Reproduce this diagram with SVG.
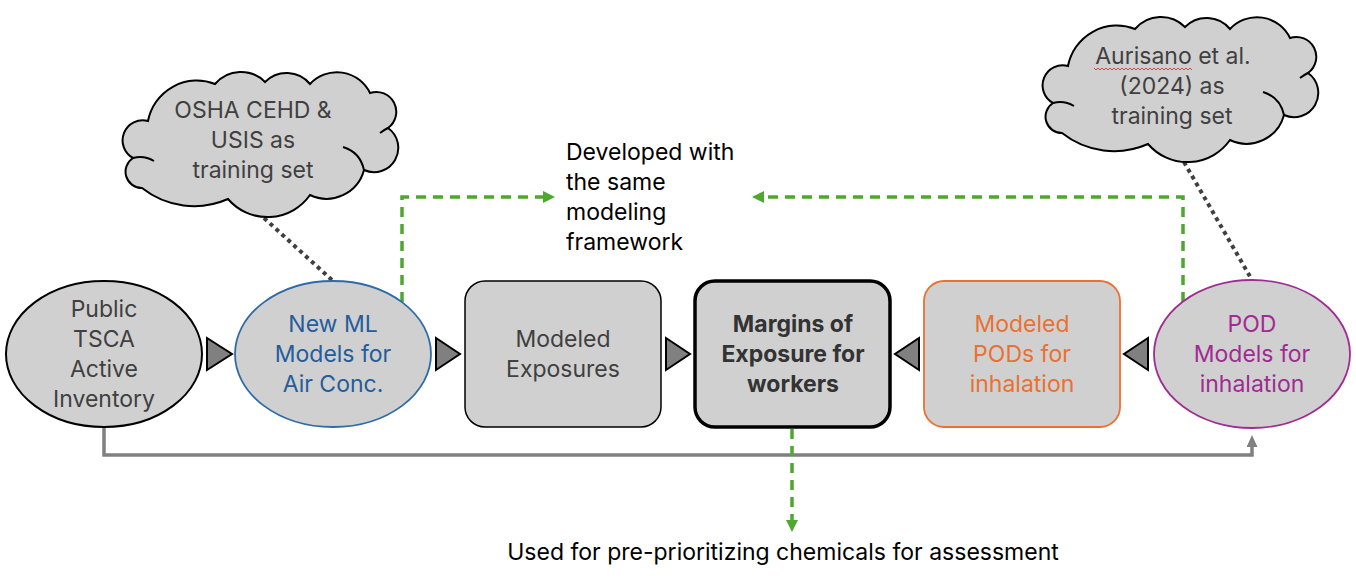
<svg xmlns="http://www.w3.org/2000/svg" width="1356" height="581" viewBox="0 0 1356 581">
<style>
text{font-family:Inter,"Open Sans","Liberation Sans",sans-serif;font-size:23px;text-anchor:middle;fill:#404040}
.lbl{fill:#000;text-anchor:start}
.fill{fill:#D0D0D0}
.tri{fill:#808080;stroke:#000;stroke-width:2;stroke-linejoin:miter}
.green{fill:none;stroke:#4EA72E;stroke-width:3.5;stroke-dasharray:10 7}
.dot{fill:none;stroke:#404040;stroke-width:4;stroke-dasharray:4 4}
.cloud{fill:#D0D0D0;stroke:#000;stroke-width:2}
.inner{fill:none;stroke:#000;stroke-width:2}
</style>
<defs>
<marker id="ga" markerUnits="userSpaceOnUse" markerWidth="12" markerHeight="12" viewBox="0 0 12 12" refX="6" refY="6" orient="auto"><path d="M0,0 L12,6 L0,12 Z" fill="#4EA72E"/></marker>
<marker id="gr" markerUnits="userSpaceOnUse" markerWidth="12" markerHeight="11" viewBox="0 0 12 11" refX="5" refY="5.5" orient="auto"><path d="M0,0 L12,5.5 L0,11 Z" fill="#808080"/></marker>
<g id="cloudShape">
<path class="cloud" d="M133,158 A20.1,20.1 0 0 1 148,121 A49.7,49.7 0 0 1 215,84 A33.9,33.9 0 0 1 265,82 A30.3,30.3 0 0 1 310,84 A36.7,36.7 0 0 1 370,93 A19.9,19.9 0 0 1 388,128 A24.3,24.3 0 0 1 364,170 A38.7,38.7 0 0 1 310,195 A52,52 0 0 1 228,199 A84,84 0 0 1 142,188 A16.3,16.3 0 0 1 133,158 Z"/>
<path class="inner" d="M133,158 Q144,155 154,161 M364,170 Q360,152 343,147 M388,128 Q384,130 380,133"/>
</g>
</defs>
<g id="connectors">
<path class="dot" d="M264,218 L333,281"/>
<path class="dot" d="M1184,162 L1252,280"/>
<path d="M104,428 V455 H1252 V442" fill="none" stroke="#808080" stroke-width="3.5" marker-end="url(#gr)"/>
<path class="green" d="M402,302 V197 H549" marker-end="url(#ga)"/>
<path class="green" d="M1183,302 V197 H758" marker-end="url(#ga)"/>
<path class="green" d="M792,429 V526" marker-end="url(#ga)"/>
<polygon class="tri" points="207,338 232,354 207,370"/>
<polygon class="tri" points="436,338 460,354 436,370"/>
<polygon class="tri" points="666,338 690,354 666,370"/>
<polygon class="tri" points="919,338 895,354 919,370"/>
<polygon class="tri" points="1148,338 1124,354 1148,370"/>
</g>
<g id="cloud1">
<use href="#cloudShape"/>
<text x="253" y="118">OSHA CEHD &amp;</text>
<text x="253" y="148">USIS as</text>
<text x="253" y="178">training set</text>
</g>
<g id="cloud2">
<use href="#cloudShape" transform="translate(920,-55)"/>
<text x="1173" y="64">Aurisano et al.</text>
<text x="1172" y="94">(2024) as</text>
<text x="1172" y="124">training set</text>
<path d="M1094,68 l2,2 l2,-2 l2,2 l2,-2 l2,2 l2,-2 l2,2 l2,-2 l2,2 l2,-2 l2,2 l2,-2 l2,2 l2,-2 l2,2 l2,-2 l2,2 l2,-2 l2,2 l2,-2 l2,2 l2,-2 l2,2 l2,-2 l2,2 l2,-2 l2,2 l2,-2 l2,2 l2,-2 l2,2 l2,-2 l2,2 l2,-2 l2,2 l2,-2 l2,2 l2,-2 l2,2 l2,-2 l2,2 l2,-2 l2,2 l2,-2 l2,2 l2,-2 l2,2 l2,-2 l2,2" fill="none" stroke="#E04040" stroke-width="1"/>
</g>
<g id="label-developed">
<text class="lbl" x="566" y="160">Developed with</text>
<text class="lbl" x="566" y="190">the same</text>
<text class="lbl" x="566" y="220">modeling</text>
<text class="lbl" x="566" y="250">framework</text>
</g>
<g id="node-inventory">
<ellipse class="fill" cx="104" cy="354" rx="98" ry="73" stroke="#000" stroke-width="2"/>
<text x="104" y="317">Public</text>
<text x="104" y="347">TSCA</text>
<text x="104" y="377">Active</text>
<text x="104" y="407">Inventory</text>
</g>
<g id="node-ml">
<ellipse class="fill" cx="333" cy="354" rx="98" ry="73" stroke="#2E6BA8" stroke-width="1.8"/>
<text x="333" y="332" style="fill:#245D9B">New ML</text>
<text x="333" y="362" style="fill:#245D9B">Models for</text>
<text x="333" y="392" style="fill:#245D9B">Air Conc.</text>
</g>
<g id="node-exposures">
<rect class="fill" x="465" y="281" width="196" height="146" rx="20" stroke="#000" stroke-width="1.5"/>
<text x="563" y="347">Modeled</text>
<text x="563" y="377">Exposures</text>
</g>
<g id="node-margins">
<rect class="fill" x="695" y="281" width="195" height="146" rx="20" stroke="#000" stroke-width="3.5"/>
<text x="793" y="332" style="font-weight:bold;fill:#333">Margins of</text>
<text x="793" y="362" style="font-weight:bold;fill:#333">Exposure for</text>
<text x="793" y="392" style="font-weight:bold;fill:#333">workers</text>
</g>
<g id="node-pods">
<rect class="fill" x="924" y="281" width="196" height="146" rx="20" stroke="#E97132" stroke-width="1.8"/>
<text x="1022" y="332" style="fill:#E97132">Modeled</text>
<text x="1022" y="362" style="fill:#E97132">PODs for</text>
<text x="1022" y="392" style="fill:#E97132">inhalation</text>
</g>
<g id="node-pod-models">
<ellipse class="fill" cx="1252" cy="354" rx="98" ry="74" stroke="#A02B93" stroke-width="1.8"/>
<text x="1252" y="332" style="fill:#A02B93">POD</text>
<text x="1252" y="362" style="fill:#A02B93">Models for</text>
<text x="1252" y="392" style="fill:#A02B93">inhalation</text>
</g>
<g id="label-used">
<text x="783" y="560" style="fill:#000">Used for pre-prioritizing chemicals for assessment</text>
</g>
</svg>
